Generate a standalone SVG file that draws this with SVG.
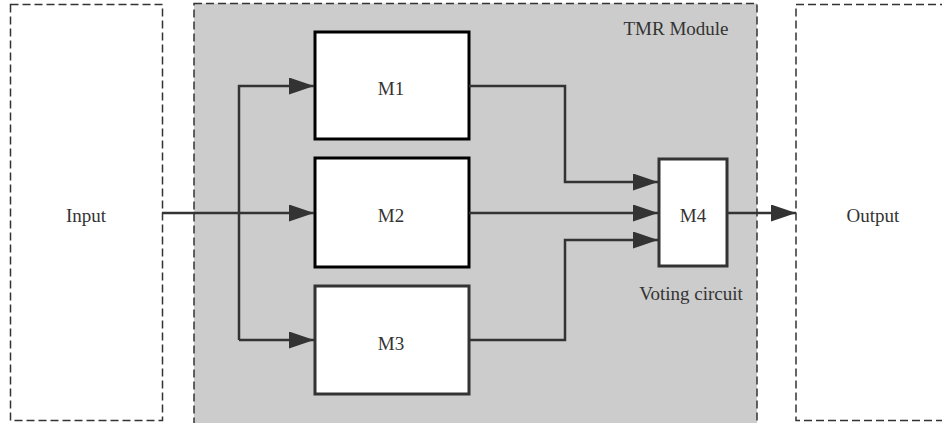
<svg xmlns="http://www.w3.org/2000/svg" width="942" height="423" viewBox="0 0 942 423">
<style>
.dash{fill:none;stroke:#333;stroke-width:1.5;stroke-dasharray:8,4}
.box{fill:#fff;stroke:#000;stroke-width:3}
.box2{fill:#fff;stroke:#333;stroke-width:3}
.lbl{font-family:"Times New Roman",Times,"DejaVu Serif",serif;font-size:19px;fill:#333;text-anchor:middle}
.wire{fill:none;stroke:#333;stroke-width:2.5}
</style>
<defs>
<marker id="ah" markerUnits="userSpaceOnUse" markerWidth="26" markerHeight="18" refX="25" refY="8.5" orient="auto">
<path d="M0,0 L25,8.5 L0,17 z" fill="#333"/>
</marker>
</defs>
<g id="tmr">
<rect x="194" y="3.5" width="563" height="440" fill="#ccc" stroke="#333" stroke-width="1.5" stroke-dasharray="8,4"/>
<text class="lbl" x="676" y="35">TMR Module</text>
</g>
<g id="input">
<rect class="dash" x="10.5" y="4.5" width="152" height="416"/>
<text class="lbl" x="86" y="222">Input</text>
</g>
<g id="output">
<rect class="dash" x="796" y="4.5" width="154" height="416"/>
<text class="lbl" x="873" y="222">Output</text>
</g>
<g id="m1">
<rect class="box" x="315" y="32" width="154" height="107"/>
<text class="lbl" x="391" y="95">M1</text>
</g>
<g id="m2">
<rect class="box" x="315" y="158" width="154" height="109"/>
<text class="lbl" x="391" y="222">M2</text>
</g>
<g id="m3">
<rect class="box2" x="315" y="286" width="154" height="108"/>
<text class="lbl" x="391" y="350">M3</text>
</g>
<g id="m4">
<rect class="box2" x="659" y="159" width="68" height="107"/>
<text class="lbl" x="693" y="222">M4</text>
<text class="lbl" x="691" y="300">Voting circuit</text>
</g>
<g id="connectors">
<path class="wire" d="M162,213 L314,213" marker-end="url(#ah)"/>
<path class="wire" d="M239,340 L239,86 L314,86" marker-end="url(#ah)"/>
<path class="wire" d="M239,340 L314,340" marker-end="url(#ah)"/>
<path class="wire" d="M469,86 L565,86 L565,182 L658,182" marker-end="url(#ah)"/>
<path class="wire" d="M469,213 L658,213" marker-end="url(#ah)"/>
<path class="wire" d="M469,340 L565,340 L565,240 L658,240" marker-end="url(#ah)"/>
<path class="wire" d="M727,213 L796,213" marker-end="url(#ah)"/>
</g>
</svg>
